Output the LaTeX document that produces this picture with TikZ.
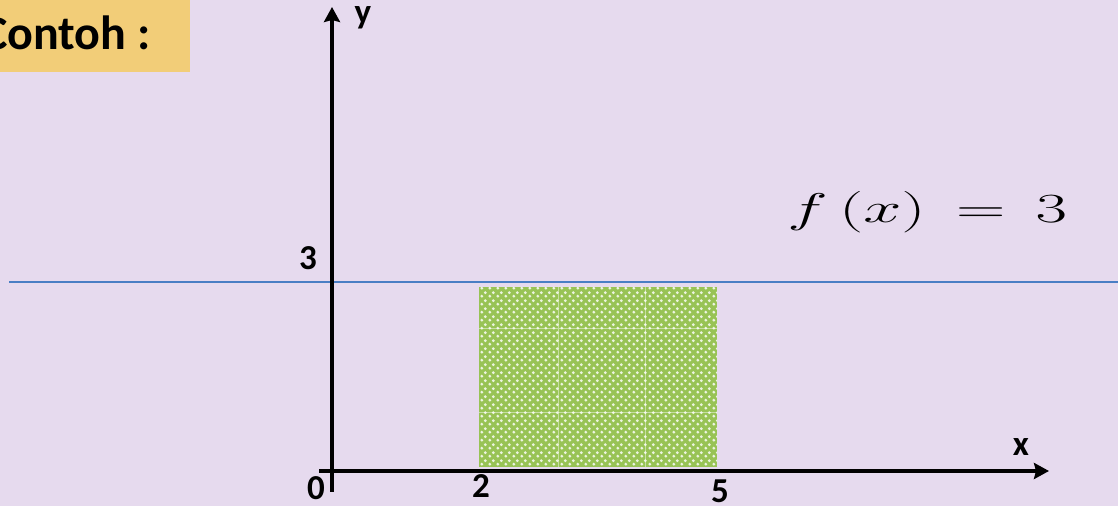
\documentclass[tikz,border=0pt]{standalone}
\usepackage[no-math]{fontspec}
\setmainfont{Carlito}
\usepackage{graphicx}
\usetikzlibrary{arrows.meta,patterns}
\definecolor{bg}{HTML}{E6DAEE}
\definecolor{boxc}{HTML}{F2CD78}
\definecolor{linec}{HTML}{4A7EC4}
\definecolor{areag}{HTML}{98C355}
\pgfdeclarepatternformonly{bigdots}{\pgfqpoint{0pt}{0pt}}{\pgfqpoint{4pt}{4pt}}{\pgfqpoint{4pt}{4pt}}{%
  \pgfpathcircle{\pgfqpoint{1pt}{1pt}}{0.85pt}%
  \pgfpathcircle{\pgfqpoint{3pt}{3pt}}{0.85pt}%
  \pgfusepath{fill}}
\tikzset{
  axis/.style={line width=2pt, -{Stealth[length=7.5pt,width=8pt,inset=1pt]}},
  lbl/.style={font=\bfseries\fontsize{17.5}{20}\selectfont, inner sep=0pt, anchor=base},
  seam/.style={white, opacity=0.45, line width=0.4pt}
}
\begin{document}
\begin{tikzpicture}[x=0.5pt,y=-0.5pt]
\useasboundingbox (0,0) rectangle (1118,506);
\fill[bg] (0,0) rectangle (1118,506);
% title box
\fill[boxc] (0,0) rectangle (190,72);
\node[font=\bfseries\fontsize{24}{28}\selectfont, inner sep=0pt, anchor=base east] (title) at (151,50) {Contoh :};
% shaded area
\fill[areag] (479,287) rectangle (717,467);
\fill[pattern=bigdots, pattern color=white!82!areag] (479,287) rectangle (717,467);
\draw[seam] (558,287) -- (558,467) (645,287) -- (645,467) (479,328) -- (717,328) (479,412) -- (717,412);
% line y=3
\coordinate (L1) at (9,282);
\coordinate (L2) at (1118,282);
\draw[linec, line width=1pt] (L1) -- (L2);
% axes
\coordinate (xs) at (319,471);
\coordinate (xe) at (1049,471);
\coordinate (ys) at (332,492);
\coordinate (ye) at (332,7);
\draw[axis] (xs) -- (xe);
\draw[axis] (ys) -- (ye);
% labels
\node[lbl] (ylab) at (363,24) {y};
\node[lbl] (xlab) at (1021,456) {x};
\node[lbl] (l3) at (308,270) {3};
\node[lbl] (l0) at (316,500) {0};
\node[lbl] (l2) at (481,498) {2};
\node[lbl] (l5) at (720,503) {5};
% formula
\node[anchor=base west, inner sep=0pt, font=\fontsize{22}{26}\selectfont] (fx) at (787,223) {\scalebox{1.65}[1]{$f\,(x)\,=\,3$}};
\end{tikzpicture}
\end{document}
